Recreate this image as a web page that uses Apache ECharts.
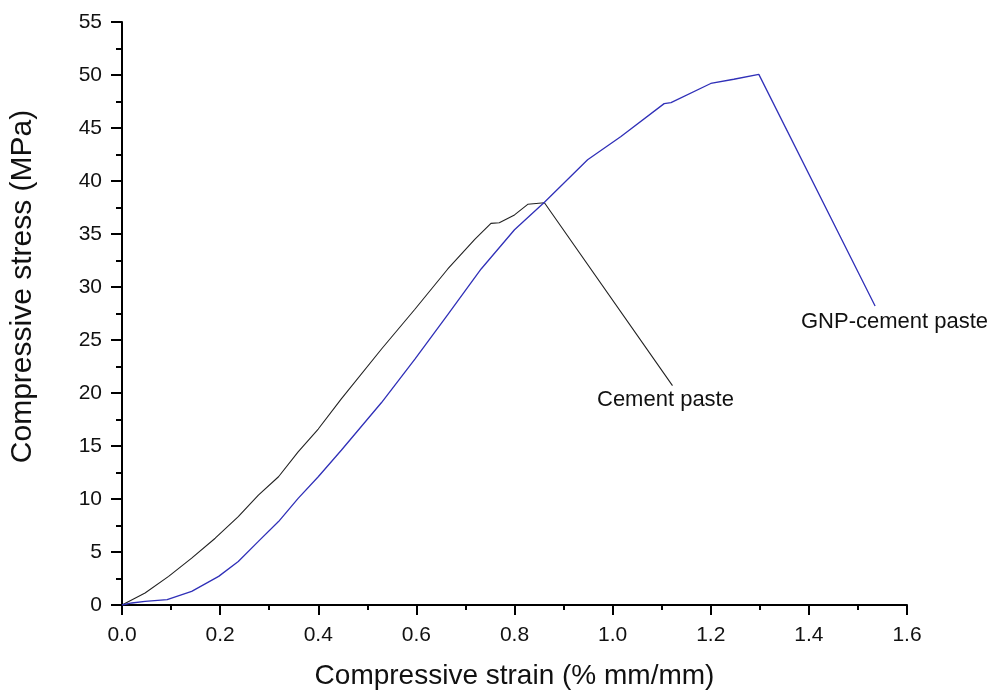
<!DOCTYPE html>
<html>
<head>
<meta charset="utf-8">
<script src="https://cdn.jsdelivr.net/npm/echarts@6/dist/echarts.min.js"></script>
<style>html,body{margin:0;padding:0;background:#fff}#c{width:998px;height:695px}</style>
</head>
<body>
<div id="c"></div>
<script>
const xTicks = [0, 0.2, 0.4, 0.6, 0.8, 1.0, 1.2, 1.4, 1.6];
const yTicks = [0, 5, 10, 15, 20, 25, 30, 35, 40, 45, 50, 55];
const cementStrain = [0, 0.047, 0.095, 0.142, 0.190, 0.237, 0.278, 0.319, 0.359, 0.400, 0.447, 0.529, 0.597, 0.664, 0.719, 0.752, 0.769, 0.800, 0.827, 0.861, 1.122];
const cementStress = [0, 1.13, 2.70, 4.42, 6.30, 8.34, 10.37, 12.1, 14.45, 16.6, 19.45, 24.15, 27.9, 31.7, 34.5, 36.0, 36.06, 36.8, 37.8, 37.95, 20.7];
const gnpStrain = [0, 0.02, 0.047, 0.092, 0.142, 0.197, 0.237, 0.278, 0.319, 0.359, 0.400, 0.447, 0.529, 0.597, 0.664, 0.732, 0.800, 0.861, 0.949, 1.017, 1.105, 1.119, 1.200, 1.247, 1.298, 1.535];
const gnpStress = [0, 0.19, 0.35, 0.5, 1.29, 2.70, 4.1, 6.0, 7.87, 10.06, 12.1, 14.6, 19.1, 23.2, 27.4, 31.7, 35.4, 38.0, 42.0, 44.2, 47.3, 47.4, 49.2, 49.6, 50.06, 28.2];
const seriesNames = ['Cement paste', 'GNP-cement paste'];
const xTitle = 'Compressive strain (% mm/mm)';
const yTitle = 'Compressive stress (MPa)';

const font = '"Liberation Sans", Arial, sans-serif';
const chart = echarts.init(document.getElementById('c'), null, {renderer: 'canvas'});
const zip = (a, b) => a.map((v, i) => [v, b[i]]);
chart.setOption({
  animation: false,
  backgroundColor: '#fff',
  grid: {left: 120, right: 91, top: 22, bottom: 88, containLabel: false},
  xAxis: {
    type: 'value', min: xTicks[0], max: xTicks[xTicks.length - 1], interval: 0.2,
    name: xTitle, nameLocation: 'middle', nameGap: 57,
    nameTextStyle: {fontFamily: font, fontSize: 28, color: '#111'},
    axisLine: {onZero: false, lineStyle: {color: '#000', width: 2}},
    axisTick: {show: true, length: 10, lineStyle: {color: '#000', width: 2}},
    minorTick: {show: true, splitNumber: 2, length: 5, lineStyle: {color: '#000', width: 2}},
    splitLine: {show: false},
    axisLabel: {fontFamily: font, fontSize: 21, color: '#111', margin: 20,
      formatter: v => v.toFixed(1)}
  },
  yAxis: {
    type: 'value', min: yTicks[0], max: yTicks[yTicks.length - 1], interval: 5,
    name: yTitle, nameLocation: 'middle', nameGap: 84,
    nameTextStyle: {fontFamily: font, fontSize: 30, color: '#111', padding: [0, 0, 0, 54]},
    axisLine: {show: true, onZero: false, lineStyle: {color: '#000', width: 2}},
    axisTick: {show: true, length: 11, lineStyle: {color: '#000', width: 2}},
    minorTick: {show: true, splitNumber: 2, length: 6, lineStyle: {color: '#000', width: 2}},
    splitLine: {show: false},
    axisLabel: {fontFamily: font, fontSize: 21, color: '#111', margin: 20}
  },
  series: [
    {name: seriesNames[0], type: 'line', data: zip(cementStrain, cementStress), showSymbol: false,
     lineStyle: {color: '#222', width: 1.1}, z: 2},
    {name: seriesNames[1], type: 'line', data: zip(gnpStrain, gnpStress), showSymbol: false,
     lineStyle: {color: '#3030b8', width: 1.3}, z: 3}
  ],
  graphic: [
    {type: 'text', left: 597, top: 389, style: {text: seriesNames[0], font: '22px ' + font, fill: '#111'}},
    {type: 'text', left: 801, top: 311, style: {text: seriesNames[1], font: '22px ' + font, fill: '#111'}}
  ]
});
</script>
</body>
</html>
